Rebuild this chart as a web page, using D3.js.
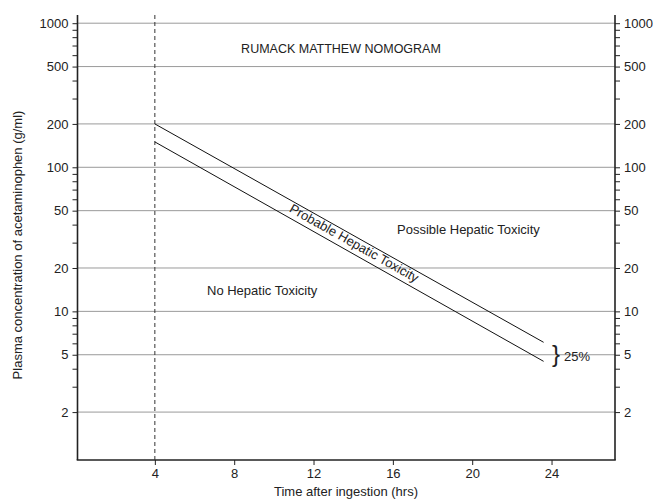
<!DOCTYPE html>
<html>
<head>
<meta charset="utf-8">
<script src="https://cdn.jsdelivr.net/npm/d3@7"></script>
<style>
  html, body { margin: 0; padding: 0; background: #fff; }
  svg { display: block; font-family: "Liberation Sans", Arial, Helvetica, sans-serif; }
</style>
</head>
<body>
<svg id="chart" width="653" height="500"></svg>
<script>
// ---- data ----
const xTicks = [4, 8, 12, 16, 20, 24];
const yMajorTicks = [1000, 500, 200, 100, 50, 20, 10, 5, 2];
const yMinorTicks = [900, 800, 700, 600, 400, 300, 90, 80, 70, 60, 40, 30, 9, 8, 7, 6, 4, 3];
const upperLine = [[4, 200], [23.6, 6.1]];   // 200 line
const lowerLine = [[4, 150], [23.6, 4.5]];   // 150 line (25% lower)
const treatmentTime = 4;
const labels = {
  title: "RUMACK MATTHEW NOMOGRAM",
  possible: "Possible Hepatic Toxicity",
  probable: "Probable Hepatic Toxicity",
  none: "No Hepatic Toxicity",
  pct: "25%",
  xTitle: "Time after ingestion (hrs)",
  yTitle: "Plasma concentration of acetaminophen (g/ml)"
};

// ---- layout ----
const svg = d3.select("#chart");
const L = 77.5, R = 615, T = 15, B = 460;
const x = d3.scaleLinear().domain([0.1, 27.2]).range([L, R]);
const y = d3.scaleLog().domain([0.93, 1140]).range([B, T]);

const fontSize = 13;
const textColor = "#222";

// gridlines
svg.append("g").selectAll("line").data(yMajorTicks).join("line")
  .attr("x1", L).attr("x2", R)
  .attr("y1", d => y(d)).attr("y2", d => y(d))
  .attr("stroke", "#9a9a9a").attr("stroke-width", 1);

const allY = yMajorTicks.concat(yMinorTicks);
const fmt = d => yMajorTicks.includes(d) ? String(d) : "";

function styleAxis(g) {
  g.select(".domain").remove();
  g.selectAll(".tick line").attr("stroke", "#222").attr("stroke-width", 1);
  g.selectAll(".tick text").attr("fill", textColor).style("font-size", fontSize + "px")
    .style("font-family", '"Liberation Sans", Arial, sans-serif');
}

svg.append("g").attr("transform", `translate(${L},0)`)
  .call(d3.axisLeft(y).tickValues(allY).tickFormat(fmt).tickSize(5).tickPadding(4))
  .call(styleAxis);
svg.append("g").attr("transform", `translate(${R},0)`)
  .call(d3.axisRight(y).tickValues(allY).tickFormat(fmt).tickSize(5).tickPadding(4))
  .call(styleAxis);
svg.append("g").attr("transform", `translate(0,${B})`)
  .call(d3.axisBottom(x).tickValues(xTicks).tickFormat(d3.format("d")).tickSize(5).tickPadding(4))
  .call(styleAxis);

// axis frame lines
const frame = svg.append("g").attr("stroke", "#222").attr("stroke-width", 1.6).attr("fill", "none");
frame.append("line").attr("x1", L).attr("x2", L).attr("y1", T).attr("y2", B);
frame.append("line").attr("x1", R).attr("x2", R).attr("y1", T).attr("y2", B);
frame.append("line").attr("x1", L - 0.8).attr("x2", R + 0.8).attr("y1", B).attr("y2", B);

// dashed line at 4 h
svg.append("line")
  .attr("x1", x(treatmentTime)).attr("x2", x(treatmentTime))
  .attr("y1", T).attr("y2", B)
  .attr("stroke", "#333").attr("stroke-width", 1).attr("stroke-dasharray", "4,3");

// nomogram lines
const line = d3.line().x(d => x(d[0])).y(d => y(d[1]));
[upperLine, lowerLine].forEach(ln => {
  svg.append("path").attr("d", line(ln))
    .attr("fill", "none").attr("stroke", "#111").attr("stroke-width", 1);
});

// texts
function txt(str, px, py, opts = {}) {
  return svg.append("text").attr("x", px).attr("y", py)
    .attr("fill", textColor)
    .attr("text-anchor", opts.anchor || "start")
    .style("font-size", (opts.size || fontSize) + "px")
    .text(str);
}
txt(labels.title, 341, 53, {anchor: "middle", size: 12.5});
txt(labels.possible, 397, 234);
txt(labels.none, 207, 295);

// probable label rotated along the lines
const angle = Math.atan2(y(upperLine[1][1]) - y(upperLine[0][1]), x(upperLine[1][0]) - x(upperLine[0][0])) * 180 / Math.PI;
svg.append("text")
  .attr("transform", `translate(352,247) rotate(${angle})`)
  .attr("text-anchor", "middle")
  .attr("fill", textColor)
  .style("font-size", fontSize + "px")
  .text(labels.probable);

// brace and 25%
svg.append("text").attr("x", 552).attr("y", 362)
  .attr("fill", textColor).style("font-size", "24px")
  .style("font-family", '"Liberation Sans", Arial, sans-serif')
  .text("}");
txt(labels.pct, 564, 361);

// axis titles
txt(labels.xTitle, 346, 496, {anchor: "middle"});
svg.append("text")
  .attr("transform", "translate(22,245) rotate(-90)")
  .attr("text-anchor", "middle")
  .attr("fill", textColor)
  .style("font-size", fontSize + "px")
  .text(labels.yTitle);
</script>
</body>
</html>
